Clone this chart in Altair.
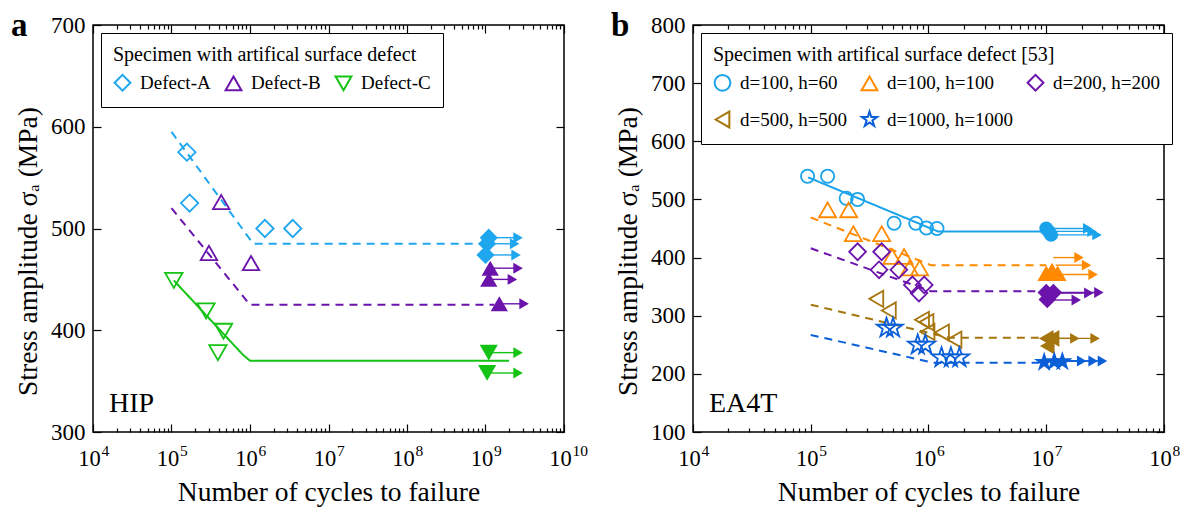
import altair as alt
import pandas as pd

FONT = "Liberation Serif"
W, H = 471, 407

# ---------------- Panel a (HIP) ----------------
a_names = ["Defect-A", "Defect-B", "Defect-C"]
a_colors = ["#1EA6EE", "#6A14AC", "#14C314"]
a_shapes = ["diamond", "triangle-up", "triangle-down"]
a_sizes = [300, 270, 300]
a_dashes = [[8, 6], [8, 6], [1, 0]]

a_open_series = ["Defect-A"] * 4 + ["Defect-B"] * 3 + ["Defect-C"] * 4
a_open_N = [1.57e5, 1.7e5, 1.55e6, 3.5e6, 4.3e5, 3.0e5, 1.03e6, 1.07e5, 2.75e5, 4.6e5, 3.9e5]
a_open_S = [575, 525, 500, 500, 526, 476, 466, 449, 419, 399, 378]

a_run_series = ["Defect-A"] * 3 + ["Defect-B"] * 3 + ["Defect-C"] * 2
a_run_N = [1.1e9, 1.05e9, 1.0e9, 1.15e9, 1.1e9, 1.5e9, 1.1e9, 1.05e9]
a_run_S = [491, 485, 474, 461, 450, 426, 378, 358]
a_arrow_end = [2.6e9, 2.35e9, 2.45e9, 2.6e9, 2.2e9, 3.1e9, 2.6e9, 2.6e9]

a_line_series = ["Defect-A"] * 3 + ["Defect-B"] * 3 + ["Defect-C"] * 4
a_line_N = [1e5, 1.1e6, 1e9, 1e5, 1e6, 1.3e9, 1.07e5, 8.1e5, 1e6, 2e9]
a_line_S = [595, 485, 485, 520, 425, 425, 449, 376, 370, 370]

a_x_major = [1e4, 1e5, 1e6, 1e7, 1e8, 1e9, 1e10]
a_x_exps = ["4", "5", "6", "7", "8", "9", "10"]
a_y_ticks = [300, 400, 500, 600, 700]

# ---------------- Panel b (EA4T) ----------------
b_names = ["d=100, h=60", "d=100, h=100", "d=200, h=200", "d=500, h=500", "d=1000, h=1000"]
b_colors = ["#1AA3EA", "#FF8A00", "#6A14AC", "#A5760E", "#0A5FD8"]
STAR = ("M0,-1L0.2245,-0.309L0.9511,-0.309L0.3633,0.118L0.5878,0.809L0,0.382"
        "L-0.5878,0.809L-0.3633,0.118L-0.9511,-0.309L-0.2245,-0.309Z")
b_shapes = ["circle", "triangle-up", "diamond", "triangle-left", STAR]
b_sizes = [175, 290, 280, 260, 420]
b_dashes = [[1, 0], [8, 6], [8, 6], [8, 6], [8, 6]]

b_open_series = ([b_names[0]] * 8 + [b_names[1]] * 8 + [b_names[2]] * 7
                 + [b_names[3]] * 7 + [b_names[4]] * 7)
b_open_N = [9.4e4, 1.39e5, 2.0e5, 2.5e5, 5.1e5, 7.8e5, 9.6e5, 1.18e6,
            1.39e5, 2.1e5, 2.3e5, 4.0e5, 4.9e5, 6.2e5, 6.9e5, 8.4e5,
            2.5e5, 4.0e5, 3.8e5, 5.6e5, 7.3e5, 9.2e5, 8.3e5,
            3.6e5, 4.6e5, 8.8e5, 9.6e5, 9.8e5, 1.3e6, 1.66e6,
            4.4e5, 5.0e5, 8.1e5, 9.4e5, 1.29e6, 1.55e6, 1.83e6]
b_open_S = [540, 540, 502, 500, 459, 459, 451, 450,
            482, 482, 441, 441, 402, 402, 382, 382,
            410, 410, 379, 379, 353, 353, 339,
            329, 309, 293, 289, 272, 271, 259,
            279, 279, 250, 250, 228, 228, 228]

b_run_series = [b_names[0]] * 3 + [b_names[1]] * 3 + [b_names[2]] * 3 + [b_names[3]] * 3 + [b_names[4]] * 3
b_run_N = [1.0e7, 1.05e7, 1.1e7, 1.0e7, 1.12e7, 1.25e7, 1.0e7, 1.15e7, 1.02e7,
           1.0e7, 1.12e7, 1.02e7, 9.6e6, 1.17e7, 1.37e7]
b_run_S = [450, 445, 439, 373, 378, 373, 340, 340, 328, 261, 261, 248, 220, 221, 221]

b_arr_series = [b_names[0]] * 3 + [b_names[1]] * 3 + [b_names[2]] * 3 + [b_names[3]] * 2 + [b_names[4]] * 3
b_arr_N0 = [1.0e7, 1.05e7, 1.1e7, 1.15e7, 1.2e7, 1.3e7, 1.0e7, 1.15e7, 1.02e7, 1.0e7, 1.12e7, 9.6e6, 1.17e7, 1.37e7]
b_arr_N1 = [2.25e7, 2.45e7, 2.7e7, 1.9e7, 2.2e7, 2.5e7, 2.8e7, 2.3e7, 1.8e7, 1.75e7, 2.6e7, 2.0e7, 2.5e7, 3.0e7]
b_arr_S = [450, 445, 439, 400, 387, 371, 340, 339, 327, 261, 261, 222, 222, 222]

b_line_series = [b_names[0]] * 3 + [b_names[1]] * 3 + [b_names[2]] * 3 + [b_names[3]] * 3 + [b_names[4]] * 3
b_line_N = [9.5e4, 1.2e6, 1e7, 1e5, 1.05e6, 1e7, 1e5, 1.05e6, 1e7, 1e5, 1.5e6, 1e7, 1e5, 1.1e6, 1e7]
b_line_S = [538, 445, 445, 469, 387, 387, 416, 342, 342, 319, 262, 262, 267, 219, 219]

b_x_major = [1e4, 1e5, 1e6, 1e7, 1e8]
b_x_exps = ["4", "5", "6", "7", "8"]
b_y_ticks = [100, 200, 300, 400, 500, 600, 700, 800]

X_BASE = "10"
X_TITLE = "Number of cycles to failure"
Y_TITLE = "Stress amplitude σₐ (MPa)"
TITLE_SIZE = 27.5


def minor_ticks(major):
    return [k * m for m in major[:-1] for k in range(2, 10)]


def exp_expr(exps, first_exp):
    arr = ",".join("'" + s + "'" for s in exps)
    return f"[{arr}][round(log(datum.value)/LN10) - {first_exp}]"


def panel(tag, material, names, colors, shapes, sizes, dashes,
          open_s, open_n, open_v, run_s, run_n, run_v,
          arr_s, arr_n0, arr_n1, arr_v, line_s, line_n, line_v,
          x_major, x_exps, y_ticks, legend_title):
    xs = alt.Scale(type="log", domain=[x_major[0], x_major[-1]])
    ys = alt.Scale(domain=[y_ticks[0], y_ticks[-1]])
    cs = alt.Scale(domain=names, range=colors)
    shs = alt.Scale(domain=names, range=shapes)
    # reversed order so that this scale gets its own (hidden) legend
    szs = alt.Scale(type="ordinal", domain=names[::-1], range=sizes[::-1])

    open_df = pd.DataFrame({"series": open_s, "N": open_n, "S": open_v})
    run_df = pd.DataFrame({"series": run_s, "N": run_n, "S": run_v})
    arr_df = pd.DataFrame({"series": arr_s, "N": arr_n0, "E": arr_n1, "S": arr_v})
    line_df = pd.DataFrame({"series": line_s, "N": line_n, "S": line_v})

    legend = alt.Legend(
        title=legend_title, orient="top-left", offset=8, columns=3, direction="horizontal",
        gridAlign="each", strokeColor="black", fillColor="white", padding=12,
        titleFont=FONT, titleFontSize=20, titleFontWeight="normal", titleColor="black",
        titlePadding=8, titleLimit=800, labelLimit=400,
        labelFont=FONT, labelFontSize=19, labelColor="black",
        symbolSize=250, symbolStrokeWidth=2, columnPadding=10, rowPadding=12,
        labelOffset=8, cornerRadius=0,
    )

    X = lambda f: alt.X(f, scale=xs, axis=None)
    Y = lambda f: alt.Y(f, scale=ys, axis=None)

    layers = []
    for name, col, dsh in zip(names, colors, dashes):
        ld = line_df[line_df.series == name]
        layers.append(alt.Chart(ld).mark_line(strokeWidth=2, color=col, strokeDash=dsh).encode(
            x=X("N:Q"), y=Y("S:Q")))
    for name, col in zip(names, colors):
        ad = arr_df[arr_df.series == name]
        if len(ad) == 0:
            continue
        layers.append(alt.Chart(ad).mark_rule(strokeWidth=1.4, color=col).encode(
            x=X("N:Q"), x2="E:Q", y=Y("S:Q")))
        layers.append(alt.Chart(ad).mark_point(filled=True, shape="triangle-right", size=120,
                                               opacity=1, color=col).encode(
            x=X("E:Q"), y=Y("S:Q")))
    layers.append(alt.Chart(open_df).mark_point(filled=False, strokeWidth=1.8, opacity=1).encode(
        x=X("N:Q"), y=Y("S:Q"),
        color=alt.Color("series:N", scale=cs, legend=legend),
        shape=alt.Shape("series:N", scale=shs, legend=legend),
        size=alt.Size("series:N", scale=szs, legend=None),
    ))
    for name, col, shp, sz in zip(names, colors, shapes, sizes):
        rd = run_df[run_df.series == name]
        layers.append(alt.Chart(rd).mark_point(filled=True, opacity=1, color=col, shape=shp,
                                               size=sz * 1.1).encode(
            x=X("N:Q"), y=Y("S:Q")))

    layers.append(alt.Chart(pd.DataFrame({"t": [tag]})).mark_text(
        font=FONT, fontSize=33, fontWeight="bold", align="left", baseline="alphabetic", color="black"
    ).encode(x=alt.value(-82), y=alt.value(10.5), text="t:N"))
    layers.append(alt.Chart(pd.DataFrame({"t": [material]})).mark_text(
        font=FONT, fontSize=28, align="left", baseline="alphabetic", color="black"
    ).encode(x=alt.value(16), y=alt.value(H - 20), text="t:N"))

    def ax_layer(vals, ch, axis):
        if ch == "x":
            df = pd.DataFrame({"v": vals, "w": [y_ticks[0]] * len(vals)})
            enc = {"x": alt.X("v:Q", scale=xs, axis=axis), "y": Y("w:Q")}
        else:
            df = pd.DataFrame({"v": vals, "w": [x_major[0]] * len(vals)})
            enc = {"y": alt.Y("v:Q", scale=ys, axis=axis), "x": X("w:Q")}
        return alt.Chart(df).mark_point(opacity=0).encode(**enc)

    x_minor = minor_ticks(x_major)
    layers += [
        # major ticks + base "10" of the labels
        ax_layer(x_major, "x", alt.Axis(
            orient="bottom", values=x_major, labelExpr=f"'{X_BASE}'",
            tickSize=8, offset=-8, labelPadding=15, labelFlush=False, labelOverlap=False,
            labelAlign="center", labelOffset=-4, labelFontSize=22.5,
            title=X_TITLE, titlePadding=9)),
        # superscript exponents of the labels
        ax_layer(x_major, "x", alt.Axis(
            orient="bottom", values=x_major, labelExpr=exp_expr(x_exps, 4),
            tickSize=8, offset=-8, tickOpacity=0, labelPadding=11, labelFlush=False,
            labelOverlap=False, labelAlign="left", labelOffset=8, labelFontSize=15.5,
            title=None)),
        ax_layer(x_minor, "x", alt.Axis(
            orient="bottom", values=x_minor, tickSize=4, offset=-4, labels=False, title=None)),
        ax_layer(x_major, "x", alt.Axis(
            orient="top", values=x_major, tickSize=8, offset=-8, labels=False, title=None)),
        ax_layer(x_minor, "x", alt.Axis(
            orient="top", values=x_minor, tickSize=4, offset=-4, labels=False, title=None)),
        ax_layer(y_ticks, "y", alt.Axis(
            orient="left", values=y_ticks, tickSize=8, offset=-8, labelPadding=8,
            title=Y_TITLE, titlePadding=8, titleY=226)),
        ax_layer(y_ticks, "y", alt.Axis(
            orient="right", values=y_ticks, tickSize=8, offset=-8, labels=False, title=None)),
    ]

    return alt.layer(*layers).resolve_axis(x="independent", y="independent").properties(
        width=W, height=H)


pa = panel("a", "HIP", a_names, a_colors, a_shapes, a_sizes, a_dashes,
           a_open_series, a_open_N, a_open_S, a_run_series, a_run_N, a_run_S,
           a_run_series, a_run_N, a_arrow_end, a_run_S,
           a_line_series, a_line_N, a_line_S,
           a_x_major, a_x_exps, a_y_ticks, "Specimen with artifical surface defect")

pb = panel("b", "EA4T", b_names, b_colors, b_shapes, b_sizes, b_dashes,
           b_open_series, b_open_N, b_open_S, b_run_series, b_run_N, b_run_S,
           b_arr_series, b_arr_N0, b_arr_N1, b_arr_S,
           b_line_series, b_line_N, b_line_S,
           b_x_major, b_x_exps, b_y_ticks, "Specimen with artifical surface defect [53]")

chart = alt.hconcat(pa, pb, spacing=129, bounds="flush").resolve_scale(
    color="independent", shape="independent", size="independent",
).properties(
    padding={"left": 2, "top": 0, "right": 2, "bottom": 0}
).configure_view(
    stroke="black", strokeWidth=1.5
).configure_axis(
    labelFont=FONT, titleFont=FONT, labelColor="black", titleColor="black",
    tickColor="black", tickWidth=1.2, labelFontSize=23, titleFontSize=TITLE_SIZE,
    titleFontWeight="normal", domain=False, grid=False,
)

chart.save("out.html", embed_options={"renderer": "svg", "actions": False})
